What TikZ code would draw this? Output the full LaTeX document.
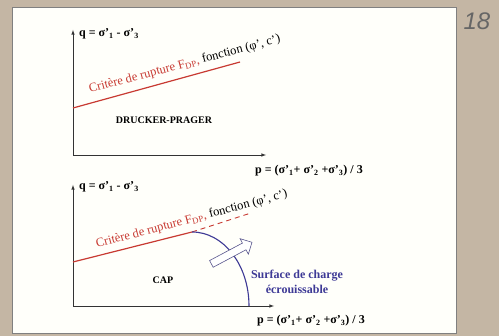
\documentclass[tikz,border=0pt]{standalone}
\usepackage{fontspec}
\setmainfont{Liberation Serif}
\newfontfamily\slidefont{Liberation Sans}
\usetikzlibrary{shapes.arrows}

\definecolor{slidetan}{RGB}{196,182,164}
\definecolor{rupturered}{RGB}{200,58,50}
\definecolor{capblue}{RGB}{62,58,150}

\tikzstyle{axis}=[draw=black!80, line width=0.6pt, -latex]
\tikzstyle{rupture}=[draw=rupturered, line width=1.2pt]
\tikzstyle{ecrouissage}=[draw=capblue, line width=1.1pt]
\tikzstyle{axislabel}=[anchor=base west, inner sep=0pt, font=\fontsize{12}{14}\selectfont\bfseries]
\tikzstyle{critere}=[anchor=base west, inner sep=0pt, rotate=15, font=\fontsize{12.5}{14}\selectfont]
\tikzstyle{modele}=[inner sep=0pt, font=\fontsize{10}{12}\selectfont\bfseries]

\begin{document}
\begin{tikzpicture}[x=1pt, y=-1pt]
					\useasboundingbox (0,0) rectangle (499,336);
					% Slide background
					\fill[slidetan] (0,0) rectangle (499,336);
					\draw[fill=white!98!yellow, draw=black!50] (12,7) rectangle (456,333);
					\node[inner sep=0pt, text=black!60, font=\slidefont\itshape\fontsize{24}{24}\selectfont] (page) at (477,21) {18};

					% Drucker-Prager
					\coordinate (dpO) at (73,155);
					\coordinate (dpQ) at (73,30);
					\coordinate (dpP) at (266,155);
					\coordinate (dpA) at (73,108);
					\coordinate (dpB) at (240,62);
					\draw[axis] (dpO) -- (dpQ);
					\draw[axis] (dpO) -- (dpP);
					\draw[rupture] (dpA) -- (dpB);
					\node[axislabel] (dpq) at (79,37) {q = σ’\textsubscript{1} - σ’\textsubscript{3}};
					\node[axislabel] (dpp) at (255,174) {p = (σ’\textsubscript{1}+ σ’\textsubscript{2} +σ’\textsubscript{3}) / 3};
					\node[critere] (dpcrit) at (90,93) {\textcolor{rupturered}{Critère de rupture F\textsubscript{DP},} fonction (φ’, c’)};
					\node[modele] (dpname) at (164,120) {DRUCKER-PRAGER};

					% Cap model
					\coordinate (capO) at (73,306);
					\coordinate (capQ) at (73,185);
					\coordinate (capP) at (274,306);
					\coordinate (capA) at (73,262);
					\coordinate (capB) at (192,232);
					\coordinate (capC) at (251,213);
					\coordinate (capD) at (249,306);
					\draw[axis] (capO) -- (capQ);
					\draw[axis] (capO) -- (capP);
					\draw[rupture] (capA) -- (capB);
					\draw[rupture, line width=0.9pt, dash pattern=on 5pt off 4pt] (capB) -- (capC);
					\draw[ecrouissage] (capB) .. controls (223.5,232) and (249,265) .. (capD);
					\node[axislabel] (capq) at (79,190) {q = σ’\textsubscript{1} - σ’\textsubscript{3}};
					\node[axislabel] (capp) at (257,324) {p = (σ’\textsubscript{1}+ σ’\textsubscript{2} +σ’\textsubscript{3}) / 3};
					\node[critere] (capcrit) at (97,248) {\textcolor{rupturered}{Critère de rupture F\textsubscript{DP},} fonction (φ’, c’)};
					\node[modele] (capname) at (163,280) {CAP};
					\node[single arrow, draw=capblue!60!gray, fill=white, line width=0.6pt, inner sep=3.5pt,
						single arrow head extend=5pt, minimum height=46pt, rotate=28] (expand) at (230,254) {};
					\node[align=center, inner sep=0pt, text=capblue, font=\fontsize{12}{15}\selectfont\bfseries] (surface) at (297,282) {Surface de charge\\écrouissable};
				\end{tikzpicture}
\end{document}
